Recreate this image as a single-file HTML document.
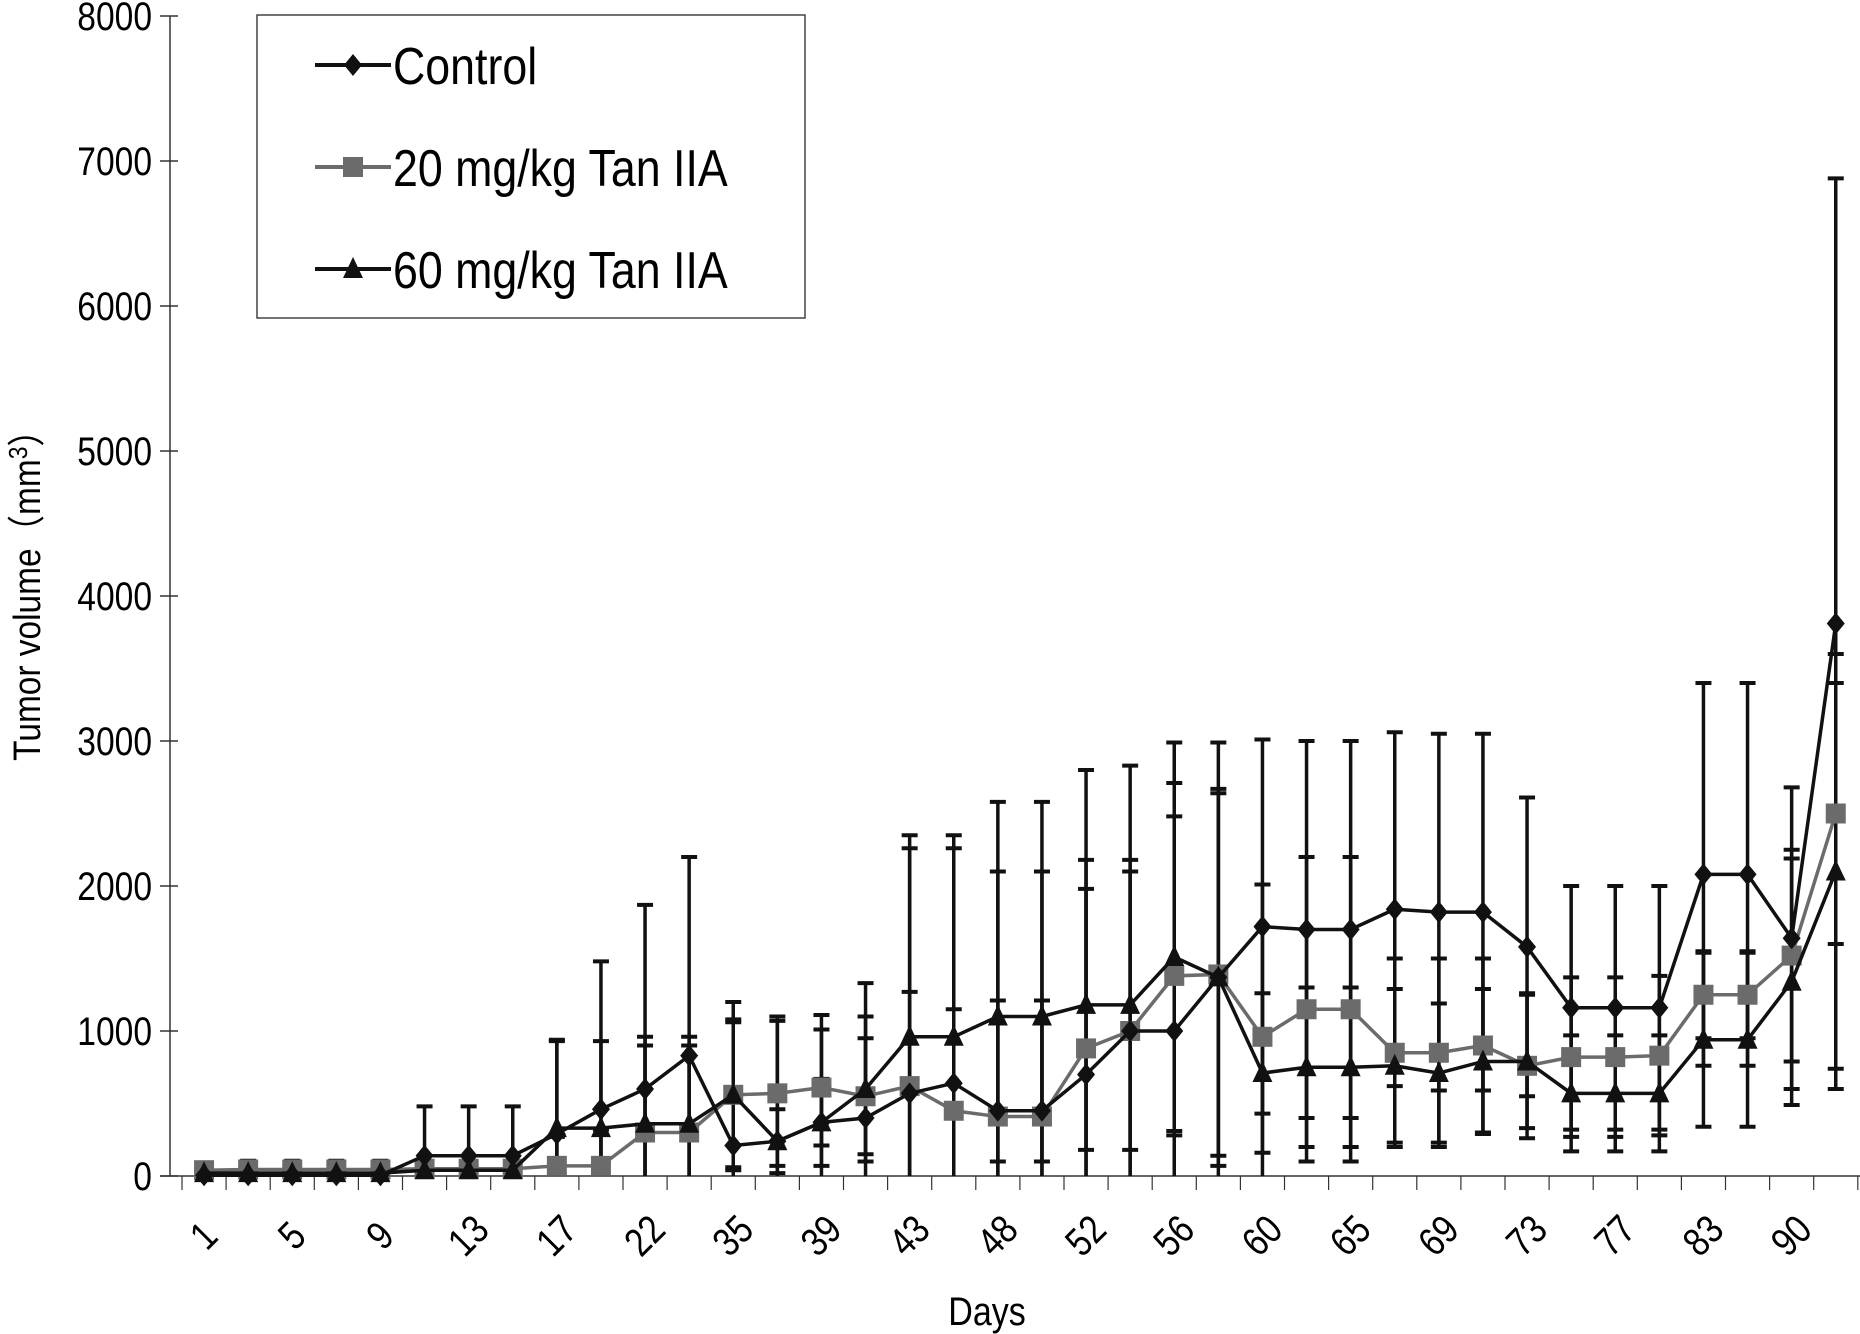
<!DOCTYPE html>
<html><head><meta charset="utf-8"><style>
html,body{margin:0;padding:0;background:#fff;}
svg{display:block;font-family:"Liberation Sans",Arial,sans-serif;}
</style></head><body>
<svg id="chart" width="1860" height="1334" viewBox="0 0 1860 1334" xmlns="http://www.w3.org/2000/svg">
<rect width="1860" height="1334" fill="#fff"/>
<g id="grid"></g>
<g id="series"></g>
<g id="legend">
<rect x="257" y="15" width="548" height="303" fill="#fff" stroke="#444" stroke-width="1.5"/>
</g>
<g transform="translate(40,587) rotate(-90) scale(0.88,1)"><text x="0" y="0" text-anchor="middle" font-size="38">Tumor volume（mm<tspan dy="-13" font-size="26">3</tspan><tspan dy="13">）</tspan></text></g>
<g transform="translate(987,1325) scale(0.85,1)"><text x="0" y="0" text-anchor="middle" font-size="40">Days</text></g>
</svg>
<script>
const categories=["1","3","5","7","9","11","13","15","17","19","22","24","35","37","39","41","43","45","48","50","52","54","56","58","60","62","65","67","69","71","73","75","77","79","83","86","90","93"];
const tickLabels=["1","","5","","9","","13","","17","","22","","35","","39","","43","","48","","52","","56","","60","","65","","69","","73","","77","","83","","90",""];
const yTicks=[0,1000,2000,3000,4000,5000,6000,7000,8000];
const control=[5,5,5,5,5,140,140,140,290,460,600,830,210,240,370,400,570,640,450,450,700,1000,1000,1370,1720,1700,1700,1840,1820,1820,1580,1160,1160,1160,2080,2080,1640,3810];
const controlErr=[20,20,20,20,20,340,340,340,650,1020,1270,1370,990,860,740,930,1780,1710,2130,2130,2100,1830,1990,1620,1290,1300,1300,1220,1230,1230,1030,840,840,840,1320,1320,1040,3070];
const tan20=[40,45,45,45,45,50,50,50,70,70,300,300,560,570,610,550,620,450,410,410,880,1000,1380,1390,960,1150,1150,850,850,900,760,820,820,830,1250,1250,1520,2500];
const tan20Err=[50,60,60,60,60,40,40,40,200,250,600,600,500,500,400,400,650,700,800,800,1100,1100,1100,1250,1050,1050,1050,650,650,600,500,550,550,550,300,300,730,900];
const tan60=[20,20,20,20,20,40,40,40,330,330,360,360,560,240,370,600,960,960,1100,1100,1180,1180,1510,1370,710,750,750,760,710,790,790,570,570,570,940,940,1340,2100];
const tan60Err=[10,10,10,10,10,10,10,10,600,600,600,600,520,220,300,500,1300,1300,1000,1000,1000,1000,1200,1300,550,550,550,530,480,500,460,400,400,400,600,600,850,1500];

const NS="http://www.w3.org/2000/svg";
const AX=170,X0=182,Y0=1176,Y8=16;
const catW=44.1;
function xPos(i){return X0+(i+0.5)*catW;}
function yPos(v){return Y0-(v/8000)*(Y0-Y8);}
function mk(tag,attrs,parent){const e=document.createElementNS(NS,tag);for(const k in attrs)e.setAttribute(k,attrs[k]);parent.appendChild(e);return e;}
const grid=document.getElementById('grid');
const ser=document.getElementById('series');
let ya=mk('line',{x1:AX,y1:Y8,x2:AX,y2:Y0,stroke:'#333','stroke-width':1.5},grid);


let xa=mk('line',{x1:AX-10,y1:Y0,x2:1860,y2:Y0,stroke:'#333','stroke-width':1.5},grid);


yTicks.forEach(v=>{
 mk('line',{x1:AX-10,y1:yPos(v),x2:AX+8,y2:yPos(v),stroke:'#333','stroke-width':1.5},grid);
 const g=mk('g',{transform:`translate(${AX-18},${yPos(v)+14}) scale(0.84,1)`},grid);
 const t=mk('text',{x:0,y:0,'text-anchor':'end','font-size':40},g);
 t.textContent=v;
 
 
});
for(let i=0;i<=categories.length;i++){
 const x=X0+i*catW;
 mk('line',{x1:x,y1:Y0,x2:x,y2:Y0+14,stroke:'#333','stroke-width':1.2},grid);
}
tickLabels.forEach((l,i)=>{
 if(!l)return;
 const x=xPos(i),y=1236;
 const g=mk('g',{transform:`translate(${x},${y}) rotate(-45) scale(0.84,1)`},grid);
 const t=mk('text',{x:0,y:13,'text-anchor':'middle','font-size':40},g);
 t.textContent=l;
 
 
});
function errBars(vals,errs,color,name){
 const g=mk('g',{},ser);
 
 
 vals.forEach((v,i)=>{
  const x=xPos(i),hi=yPos(v+errs[i]),lo=yPos(Math.max(0,v-errs[i]));
  mk('line',{x1:x,y1:hi,x2:x,y2:lo,stroke:color,'stroke-width':3.5},g);
  mk('line',{x1:x-8,y1:hi,x2:x+8,y2:hi,stroke:color,'stroke-width':4},g);
  if(v-errs[i]>0)mk('line',{x1:x-8,y1:lo,x2:x+8,y2:lo,stroke:color,'stroke-width':4},g);
 });
}
function line(vals,color,name,marker){
 const g=mk('g',{},ser);
 
 
 const pts=vals.map((v,i)=>xPos(i)+','+yPos(v)).join(' ');
 mk('polyline',{points:pts,fill:'none',stroke:color,'stroke-width':3.5},g);
 vals.forEach((v,i)=>{
  const m=drawMarker(marker,xPos(i),yPos(v),color,g);
  
  
 });
}
function drawMarker(type,x,y,color,g){
 if(type==='diamond')return mk('polygon',{points:`${x},${y-11} ${x+9},${y} ${x},${y+11} ${x-9},${y}`,fill:color},g);
 if(type==='square')return mk('rect',{x:x-10,y:y-10,width:20,height:20,fill:color},g);
 return mk('polygon',{points:`${x},${y-12} ${x+10},${y+9} ${x-10},${y+9}`,fill:color},g);
}
errBars(tan20,tan20Err,'#111','tan20');
errBars(tan60,tan60Err,'#111','tan60');
errBars(control,controlErr,'#111','control');
line(tan20,'#6b6b6b','tan20','square');
line(tan60,'#111','tan60','triangle');
line(control,'#111','control','diamond');
const lg=document.getElementById('legend');
[["Control",'#111','diamond',65],["20 mg/kg Tan IIA",'#6b6b6b','square',167],["60 mg/kg Tan IIA",'#111','triangle',269]].forEach(([lab,c,m,y])=>{
 const g=mk('g',{},lg);
 
 
 mk('line',{x1:315,y1:y,x2:391,y2:y,stroke:c,'stroke-width':4},g);
 drawMarker(m,353,y,c,g);
 const tg=mk('g',{transform:`translate(393,${y+19}) scale(0.86,1)`},g);
 const t=mk('text',{x:0,y:0,'font-size':52},tg);
 t.textContent=lab;
});
</script>
</body></html>
